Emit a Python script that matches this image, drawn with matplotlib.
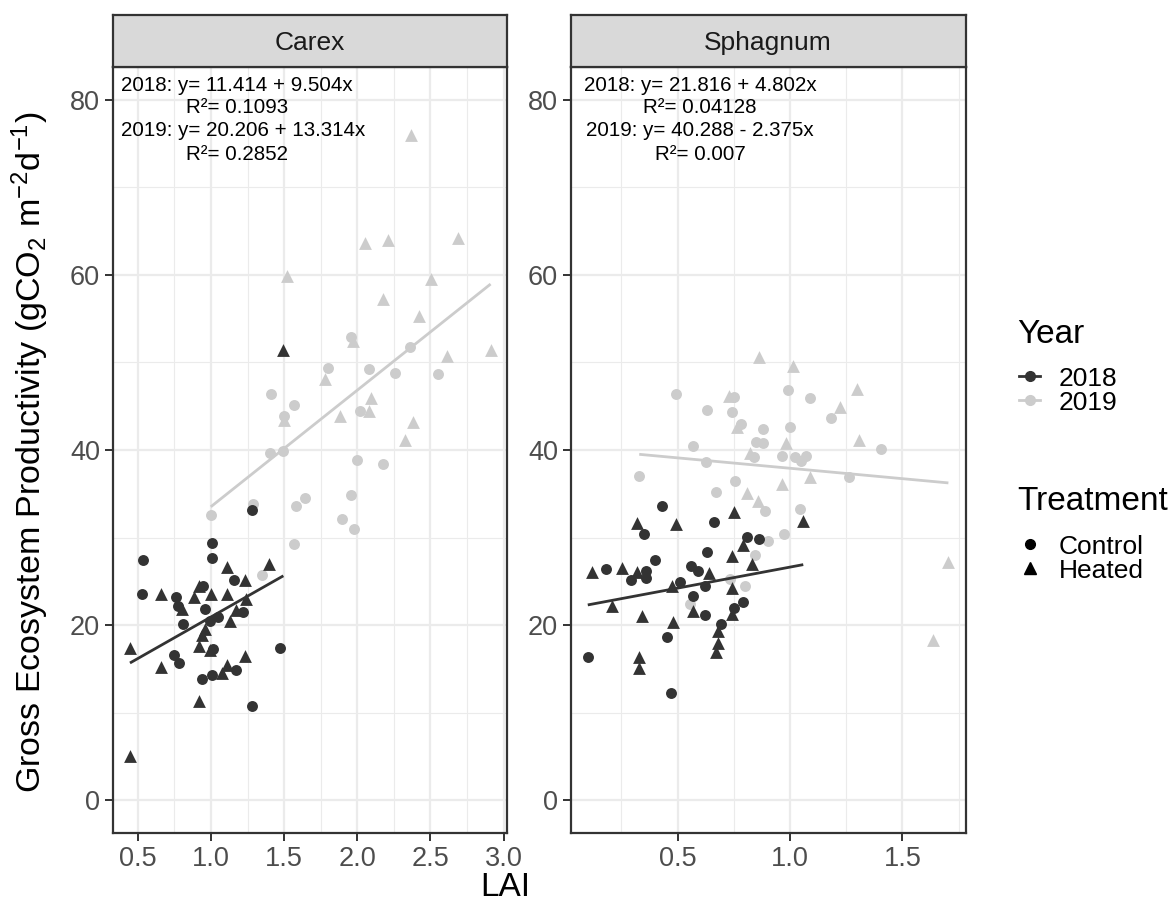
import numpy as np
import matplotlib.pyplot as plt
from matplotlib.lines import Line2D

plt.rcParams['font.family'] = ['Liberation Sans', 'DejaVu Sans']
plt.rcParams['mathtext.default'] = 'regular'

DARK = '#333333'
LIGHT = '#CCCCCC'
GRID = '#EBEBEB'

# ---- data (LAI, GEP) ----
carex_2018_ctrl_x = [0.538, 0.527, 0.76, 0.777, 0.81, 1.008, 1.008, 1.28, 0.948, 1.158, 0.96,
                     1.046, 0.994, 1.22, 1.016, 0.75, 0.782, 1.171, 0.939, 1.01, 1.472, 1.28]
carex_2018_ctrl_y = [27.4, 23.6, 23.2, 22.2, 20.1, 29.4, 27.7, 33.1, 24.5, 25.1, 21.8,
                     20.9, 20.5, 21.5, 17.3, 16.6, 15.7, 14.9, 13.8, 14.3, 17.4, 10.7]
carex_2018_heat_x = [0.447, 0.447, 0.657, 0.657, 0.80, 0.887, 0.919, 0.999, 1.108, 1.108, 1.23, 1.24,
                     1.171, 1.13, 0.96, 0.941, 0.921, 0.994, 1.23, 1.108, 1.074, 0.921, 1.40, 1.495]
carex_2018_heat_y = [17.4, 5.0, 23.5, 15.2, 21.8, 23.2, 24.5, 23.6, 26.6, 23.5, 25.1, 23.0,
                     21.7, 20.5, 19.5, 18.9, 17.6, 17.1, 16.5, 15.4, 14.5, 11.3, 27.0, 51.4]
carex_2019_ctrl_x = [0.999, 1.286, 1.349, 1.404, 1.413, 1.495, 1.5, 1.566, 1.568, 1.579, 1.64, 1.802,
                     1.896, 1.959, 1.959, 1.975, 1.996, 2.018, 2.078, 2.174, 2.255, 2.36, 2.55]
carex_2019_ctrl_y = [32.6, 33.8, 25.7, 39.7, 46.4, 39.9, 43.9, 29.3, 45.1, 33.6, 34.5, 49.4,
                     32.1, 34.9, 52.9, 31.0, 38.9, 44.5, 49.3, 38.4, 48.8, 51.8, 48.7]
carex_2019_heat_x = [1.5, 1.522, 1.779, 1.882, 1.973, 2.05, 2.082, 2.091, 2.178, 2.208, 2.328, 2.37,
                     2.383, 2.419, 2.503, 2.61, 2.69, 2.911]
carex_2019_heat_y = [43.4, 59.9, 48.1, 43.9, 52.5, 63.7, 44.4, 45.9, 57.3, 64.0, 41.1, 76.0,
                     43.2, 55.3, 59.5, 50.7, 64.2, 51.4]

sphag_2018_ctrl_x = [0.10, 0.181, 0.291, 0.36, 0.36, 0.35, 0.40, 0.43, 0.451, 0.47, 0.51, 0.561,
                     0.589, 0.569, 0.62, 0.62, 0.629, 0.66, 0.691, 0.751, 0.789, 0.81, 0.861]
sphag_2018_ctrl_y = [16.4, 26.4, 25.1, 26.2, 25.4, 30.4, 27.4, 33.6, 18.6, 12.2, 24.9, 26.8,
                     26.2, 23.3, 24.5, 21.1, 28.3, 31.8, 20.1, 21.9, 22.6, 30.1, 29.8]
sphag_2018_heat_x = [0.121, 0.251, 0.32, 0.32, 0.21, 0.341, 0.329, 0.329, 0.492, 0.48, 0.473, 0.641,
                     0.569, 0.74, 0.74, 0.74, 0.751, 0.791, 0.83, 0.681, 0.681, 0.671, 1.059]
sphag_2018_heat_y = [26.1, 26.5, 26.1, 31.7, 22.2, 21.0, 16.4, 15.1, 31.5, 20.4, 24.5, 26.0,
                     21.6, 27.9, 24.2, 21.3, 32.9, 29.2, 27.0, 19.3, 17.9, 16.9, 31.9]
sphag_2019_ctrl_x = [0.491, 0.751, 0.99, 1.089, 0.63, 0.74, 0.78, 0.88, 0.999, 0.847, 0.88, 0.569,
                     0.84, 0.966, 1.022, 1.071, 1.048, 0.625, 0.329, 0.754, 0.671, 0.89, 1.045,
                     1.184, 1.405, 1.263, 0.90, 0.975, 0.844, 0.80, 0.733, 0.555]
sphag_2019_ctrl_y = [46.4, 46.0, 46.8, 45.9, 44.6, 44.3, 43.0, 42.4, 42.6, 40.9, 40.8, 40.4,
                     39.2, 39.3, 39.2, 39.3, 38.7, 38.6, 37.0, 36.5, 35.2, 33.0, 33.3,
                     43.7, 40.1, 36.9, 29.6, 30.4, 28.0, 24.5, 25.3, 22.4]
sphag_2019_heat_x = [0.861, 1.015, 0.73, 0.763, 0.98, 0.822, 1.089, 0.966, 0.81, 0.859, 1.30,
                     1.221, 1.306, 1.705, 1.637]
sphag_2019_heat_y = [50.6, 49.6, 46.2, 42.6, 40.8, 39.7, 36.9, 36.1, 35.1, 34.2, 47.0,
                     44.9, 41.1, 27.2, 18.3]

# fitted lines: intercept, slope, R2 (as printed in the figure)
carex_fit = {2018: (11.414, 9.504, '0.1093'), 2019: (20.206, 13.314, '0.2852')}
sphag_fit = {2018: (21.816, 4.802, '0.04128'), 2019: (40.288, -2.375, '0.007')}

years = [2018, 2019]
year_colors = {2018: DARK, 2019: LIGHT}

carex = {
    2018: ((carex_2018_ctrl_x, carex_2018_ctrl_y), (carex_2018_heat_x, carex_2018_heat_y)),
    2019: ((carex_2019_ctrl_x, carex_2019_ctrl_y), (carex_2019_heat_x, carex_2019_heat_y)),
}
sphag = {
    2018: ((sphag_2018_ctrl_x, sphag_2018_ctrl_y), (sphag_2018_heat_x, sphag_2018_heat_y)),
    2019: ((sphag_2019_ctrl_x, sphag_2019_ctrl_y), (sphag_2019_heat_x, sphag_2019_heat_y)),
}

W, H = 1170, 909
fig = plt.figure(figsize=(W / 100, H / 100), dpi=100)


def px_box(l, t, r, b):
    return [l / W, 1 - b / H, (r - l) / W, (b - t) / H]


def draw_panel(l, r, title, groups, fits, xlim, xmaj, xmin, ann_x):
    ax = fig.add_axes(px_box(l, 66.7, r, 833.3))
    sax = fig.add_axes(px_box(l, 15, r, 66.7))

    # points: 2019 first so 2018 sits on top
    for yr in [2019, 2018]:
        (cx, cy), (hx, hy) = groups[yr]
        ax.scatter(cx, cy, s=62, marker='o', color=year_colors[yr], linewidths=0, zorder=3)
        ax.scatter(hx, hy, s=85, marker='^', color=year_colors[yr], linewidths=0, zorder=3)

    # regression lines over the data range of each year
    for yr in years:
        (cx, cy), (hx, hy) = groups[yr]
        allx = np.array(cx + hx)
        a, b, _ = fits[yr]
        xs = np.array([allx.min(), allx.max()])
        ax.plot(xs, a + b * xs, color=year_colors[yr], lw=2.0, zorder=4, solid_capstyle='butt')

    # equation labels
    ann_y = [81.6, 79.1, 76.5, 73.8]
    lines = []
    for yr in years:
        a, b, r2 = fits[yr]
        sign = '+' if b >= 0 else '-'
        lines.append(f'{yr}: y= {a:.3f} {sign} {abs(b):.3f}x')
        lines.append(f'R\u00b2= {r2}')
    for txt, xx, yy in zip(lines, ann_x, ann_y):
        ax.text(xx, yy, txt, ha='center', va='center', fontsize=14.8, color='black', zorder=5)

    ax.set_xlim(*xlim)
    ax.set_ylim(-3.8, 83.8)
    ax.set_xticks(xmaj)
    ax.set_xticks(xmin, minor=True)
    ax.set_yticks([0, 20, 40, 60, 80])
    ax.set_yticks([10, 30, 50, 70], minor=True)
    ax.set_xticklabels([f'{v:.1f}' for v in xmaj])
    ax.grid(which='major', color=GRID, lw=1.6, zorder=0)
    ax.grid(which='minor', color=GRID, lw=0.8, zorder=0)
    ax.set_axisbelow(True)
    ax.tick_params(which='major', length=5.5, width=1.4, color=DARK, labelsize=19.5,
                   labelcolor='#4D4D4D', pad=3.5)
    ax.tick_params(which='minor', length=0)
    for s in ax.spines.values():
        s.set_color(DARK)
        s.set_linewidth(1.6)

    sax.set_facecolor('#D9D9D9')
    sax.set_xticks([])
    sax.set_yticks([])
    for s in sax.spines.values():
        s.set_color(DARK)
        s.set_linewidth(1.6)
    sax.text(0.5, 0.45, title, ha='center', va='center', fontsize=19, color='#1A1A1A',
             transform=sax.transAxes)
    return ax


draw_panel(112.7, 507.3, 'Carex', carex, carex_fit, (0.329, 3.025),
           [0.5, 1.0, 1.5, 2.0, 2.5, 3.0], [0.75, 1.25, 1.75, 2.25, 2.75],
           [1.176, 1.176, 1.219, 1.176])
draw_panel(570.7, 965.7, 'Sphagnum', sphag, sphag_fit, (0.024, 1.782),
           [0.5, 1.0, 1.5], [0.25, 0.75, 1.25, 1.75],
           [0.599, 0.599, 0.599, 0.599])

fig.text(505 / W, 1 - 887 / H, 'LAI', ha='center', va='center', fontsize=24)
fig.text(30 / W, 1 - 452 / H, 'Gross Ecosystem Productivity (gCO$_2$ m$^{-2}$d$^{-1}$)',
         ha='center', va='center', rotation=90, fontsize=24.5)

# legends: titles as text, keys via fig.legend
fig.text(1017 / W, 1 - 343 / H, 'Year', ha='left', va='baseline', fontsize=24)
fig.text(1017 / W, 1 - 510 / H, 'Treatment', ha='left', va='baseline', fontsize=24)

year_handles = [Line2D([], [], color=year_colors[yr], lw=2, marker='o', ms=7) for yr in years]
fig.legend(year_handles, [str(yr) for yr in years], loc='center left',
           bbox_to_anchor=(1019 / W, 1 - 390.5 / H), frameon=False, fontsize=19,
           handlelength=0.8, handletextpad=0.72, labelspacing=0.0,
           borderpad=0, borderaxespad=0)
trt_handles = [Line2D([], [], color='black', lw=0, marker='o', ms=7),
               Line2D([], [], color='black', lw=0, marker='^', ms=8)]
fig.legend(trt_handles, ['Control', 'Heated'], loc='center left',
           bbox_to_anchor=(1019 / W, 1 - 558.5 / H), frameon=False, fontsize=19,
           handlelength=0.8, handletextpad=0.72, labelspacing=0.0,
           borderpad=0, borderaxespad=0)

fig.savefig('out.png', dpi=100)
